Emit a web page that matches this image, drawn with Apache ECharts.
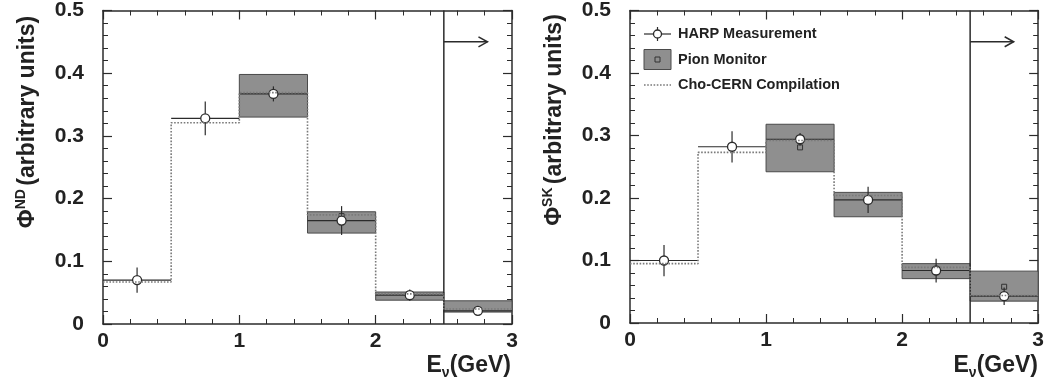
<!DOCTYPE html>
<html><head><meta charset="utf-8">
<script src="https://cdn.jsdelivr.net/npm/echarts@6/dist/echarts.min.js"></script>
<style>html,body{margin:0;padding:0;background:#fff}#c{width:1047px;height:385px}</style>
</head><body><div id="c"></div>
<script>
// ---- data ----
const binEdges   = [0, 0.5, 1, 1.5, 2, 2.5, 3];
const binCenters = [0.25, 0.75, 1.25, 1.75, 2.25, 2.75];
const pionBins   = [1.25, 1.75, 2.25, 2.75];
const xTicks = [0, 1, 2, 3];
const yTicks = [0, 0.1, 0.2, 0.3, 0.4, 0.5];

// Near detector (ND)
const harpND      = [0.070, 0.328, 0.367, 0.165, 0.046, 0.021];
const harpNDErr   = [0.020, 0.027, 0.012, 0.023, 0.009, 0.006];
const pionNDLow   = [0.330, 0.145, 0.038, 0.019];
const pionNDHigh  = [0.398, 0.179, 0.051, 0.037];
const pionNDMid   = [0.368, 0.172, 0.048, 0.022];
const choND       = [0.067, 0.321, 0.369, 0.174, 0.048, 0.024];

// Super-Kamiokande (SK)
const harpSK      = [0.100, 0.282, 0.294, 0.197, 0.084, 0.043];
const harpSKErr   = [0.025, 0.025, 0.010, 0.021, 0.019, 0.014];
const pionSKLow   = [0.242, 0.170, 0.071, 0.035];
const pionSKHigh  = [0.318, 0.209, 0.095, 0.083];
const pionSKMid   = [0.281, 0.196, 0.084, 0.058];
const choSK       = [0.095, 0.273, 0.292, 0.204, 0.089, 0.044];

const cutEnergy = 2.5;
const arrowY = 0.45;
const arrowEnd = 2.82;

const legendNames = ['HARP Measurement', 'Pion Monitor', 'Cho-CERN Compilation'];

// ---- helpers ----
const FONT = 'Liberation Sans';
const INK = '#2b2b2b';
const BOX = '#8f8f8f';
const BOXEDGE = '#4a4a4a';
const DOT = '#7a7a7a';
const halfBin = (binEdges[1] - binEdges[0]) / 2;
const X0 = xTicks[0], X1 = xTicks[xTicks.length - 1];
const Y0 = yTicks[0], Y1 = yTicks[yTicks.length - 1];

function pionRender(params, api) {
  const c = api.value(0), lo = api.value(1), hi = api.value(2), m = api.value(3);
  const p0 = api.coord([c - halfBin, hi]);
  const p1 = api.coord([c + halfBin, lo]);
  const pm = api.coord([c, m]);
  return {type: 'group', children: [
    {type: 'rect', shape: {x: p0[0], y: p0[1], width: p1[0] - p0[0], height: p1[1] - p0[1]},
     style: {fill: BOX, stroke: BOXEDGE, lineWidth: 1}},
    {type: 'rect', shape: {x: pm[0] - 2.5, y: pm[1] - 2.5, width: 5, height: 5},
     style: {fill: 'none', stroke: '#333', lineWidth: 1}}
  ]};
}
function harpBarRender(params, api) {
  const c = api.value(0), v = api.value(1), e = api.value(2);
  const pl = api.coord([c - halfBin, v]), pr = api.coord([c + halfBin, v]);
  const pt = api.coord([c, v + e]), pb = api.coord([c, v - e]);
  const st = {stroke: INK, lineWidth: 1.2};
  return {type: 'group', children: [
    {type: 'line', shape: {x1: pl[0], y1: pl[1], x2: pr[0], y2: pr[1]}, style: st},
    {type: 'line', shape: {x1: pt[0], y1: pt[1], x2: pb[0], y2: pb[1]}, style: st}
  ]};
}
function cutRender(params, api) {
  const x = api.value(0), y0 = api.value(1), y1 = api.value(2), ay = api.value(3), ax = api.value(4);
  const b = api.coord([x, y0]), t = api.coord([x, y1]);
  const a0 = api.coord([x, ay]), a1 = api.coord([ax, ay]);
  const st = {stroke: INK, lineWidth: 1.5, fill: 'none'};
  return {type: 'group', children: [
    {type: 'line', shape: {x1: b[0], y1: b[1], x2: t[0], y2: t[1]}, style: st},
    {type: 'line', shape: {x1: a0[0], y1: a0[1], x2: a1[0], y2: a1[1]}, style: st},
    {type: 'polyline', shape: {points: [[a1[0] - 9, a1[1] - 5], [a1[0], a1[1]], [a1[0] - 9, a1[1] + 5]]}, style: st}
  ]};
}

function stepData(vals) {
  const d = vals.map((v, i) => [binEdges[i], v]);
  d.push([binEdges[binEdges.length - 1], vals[vals.length - 1]]);
  return d;
}

const grids = [
  {left: 103, top: 10, width: 409, height: 314},
  {left: 630, top: 9, width: 409, height: 314}
];

function axisBase(gi, min, max, interval) {
  return {
    type: 'value', gridIndex: gi, min: min, max: max, interval: interval,
    axisLine: {show: true, onZero: false, lineStyle: {color: INK, width: 1.5}},
    axisTick: {show: true, inside: true, length: 9, lineStyle: {color: INK, width: 1.2}},
    minorTick: {show: true, splitNumber: 5, length: 5, lineStyle: {color: INK, width: 1}},
    splitLine: {show: false}
  };
}
function xAxes(gi) {
  return [
    Object.assign(axisBase(gi, X0, X1, 1), {position: 'bottom',
      axisLabel: {show: true, margin: 7, fontWeight: 'bold', fontSize: 21, color: '#222'}}),
    Object.assign(axisBase(gi, X0, X1, 1), {position: 'top', axisLabel: {show: false}})
  ];
}
function yAxes(gi) {
  return [
    Object.assign(axisBase(gi, Y0, Y1, 0.1), {position: 'left',
      axisLabel: {show: true, margin: 19, fontWeight: 'bold', fontSize: 21, color: '#222'}}),
    Object.assign(axisBase(gi, Y0, Y1, 0.1), {position: 'right', axisLabel: {show: false}})
  ];
}

function panelSeries(gi, harp, harpErr, pLow, pHigh, pMid, cho) {
  const ax = gi * 2;
  return [
    {type: 'custom', name: legendNames[1], xAxisIndex: ax, yAxisIndex: ax,
     itemStyle: {color: BOX}, renderItem: pionRender,
     data: pionBins.map((c, i) => [c, pLow[i], pHigh[i], pMid[i]])},
    {type: 'line', name: legendNames[2], xAxisIndex: ax, yAxisIndex: ax,
     step: 'end', symbol: 'none', showSymbol: false,
     lineStyle: {type: 'dotted', color: DOT, width: 1.6}, itemStyle: {color: DOT},
     data: stepData(cho)},
    {type: 'custom', name: 'HARP error bars', xAxisIndex: ax, yAxisIndex: ax,
     renderItem: harpBarRender,
     data: binCenters.map((c, i) => [c, harp[i], harpErr[i]])},
    {type: 'scatter', name: legendNames[0], xAxisIndex: ax, yAxisIndex: ax,
     symbol: 'circle', symbolSize: 9,
     itemStyle: {color: '#fff', borderColor: INK, borderWidth: 1.3, opacity: 1},
     data: binCenters.map((c, i) => [c, harp[i]])},
    {type: 'custom', name: 'cut', xAxisIndex: ax, yAxisIndex: ax,
     renderItem: cutRender,
     data: [[cutEnergy, Y0, Y1, arrowY, arrowEnd]]}
  ];
}

function yTitle(x, y, sup) {
  return {type: 'text', x: x, y: y, rotation: Math.PI / 2,
    style: {text: '{a|Φ}{s|' + sup + '} {a|(arbitrary units)}', align: 'center', verticalAlign: 'middle',
      rich: {a: {fontFamily: FONT, fontWeight: 'bold', fontSize: 23, fill: '#222', lineHeight: 28},
             s: {fontFamily: FONT, fontWeight: 'bold', fontSize: 14, fill: '#222', verticalAlign: 'top'}}}};
}
function xTitle(x, y) {
  return {type: 'text', x: x, y: y,
    style: {text: '{a|E}{s|ν}{a|(GeV)}', align: 'right', verticalAlign: 'middle',
      rich: {a: {fontFamily: FONT, fontWeight: 'bold', fontSize: 23, fill: '#222', lineHeight: 28},
             s: {fontFamily: FONT, fontWeight: 'bold', fontSize: 14, fill: '#222', verticalAlign: 'bottom'}}}};
}

// legend (drawn in the right panel)
const LX = 644, LW = 27, LT = 678;
const legendFont = {fontFamily: FONT, fontWeight: 'bold', fontSize: 14.5, fill: '#222'};
const legendGraphic = {type: 'group', children: [
  {type: 'line', shape: {x1: LX, y1: 34, x2: LX + LW, y2: 34}, style: {stroke: INK, lineWidth: 1.2}},
  {type: 'line', shape: {x1: LX + LW / 2, y1: 27, x2: LX + LW / 2, y2: 41}, style: {stroke: INK, lineWidth: 1.2}},
  {type: 'circle', shape: {cx: LX + LW / 2, cy: 34, r: 4}, style: {fill: '#fff', stroke: INK, lineWidth: 1.3}},
  {type: 'text', x: LT, y: 34, style: Object.assign({text: legendNames[0], verticalAlign: 'middle'}, legendFont)},
  {type: 'rect', shape: {x: LX, y: 49.5, width: LW, height: 20}, style: {fill: BOX, stroke: BOXEDGE, lineWidth: 1}},
  {type: 'rect', shape: {x: LX + LW / 2 - 2.5, y: 57, width: 5, height: 5}, style: {fill: 'none', stroke: '#333', lineWidth: 1}},
  {type: 'text', x: LT, y: 60, style: Object.assign({text: legendNames[1], verticalAlign: 'middle'}, legendFont)},
  {type: 'line', shape: {x1: LX, y1: 85, x2: LX + LW, y2: 85}, style: {stroke: DOT, lineWidth: 1.6, lineDash: [1.6, 1.6]}},
  {type: 'text', x: LT, y: 85, style: Object.assign({text: legendNames[2], verticalAlign: 'middle'}, legendFont)}
]};

const chart = echarts.init(document.getElementById('c'), null, {renderer: 'canvas'});
chart.setOption({
  animation: false,
  textStyle: {fontFamily: FONT},
  grid: grids,
  xAxis: xAxes(0).concat(xAxes(1)),
  yAxis: yAxes(0).concat(yAxes(1)),
  graphic: [yTitle(28, 122, 'ND'), yTitle(555, 120, 'SK'), xTitle(511, 366), xTitle(1038, 366), legendGraphic],
  series: panelSeries(0, harpND, harpNDErr, pionNDLow, pionNDHigh, pionNDMid, choND)
    .concat(panelSeries(1, harpSK, harpSKErr, pionSKLow, pionSKHigh, pionSKMid, choSK))
});
</script>
</body></html>
